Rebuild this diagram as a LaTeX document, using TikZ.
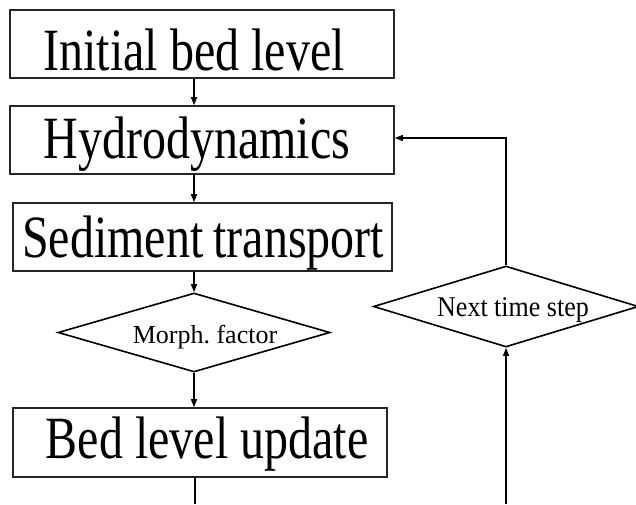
\documentclass[tikz,border=0pt]{standalone}
\usepackage{fontspec}
\usepackage{graphicx}
\setmainfont{Liberation Serif}
\usetikzlibrary{shapes.geometric,arrows.meta}

\tikzset{
  stagebox/.style={draw, line width=1.6pt, rectangle, inner sep=0pt, draw=black!85},
  gate/.style={draw, line width=1.6pt, diamond, inner sep=0pt, draw=black},
  bigtext/.style={anchor=base, inner sep=0pt, font=\fontsize{48pt}{50pt}\selectfont},
  smalltext/.style={anchor=base, inner sep=0pt, font=\frenchspacing\fontsize{26pt}{28pt}\selectfont},
  flow/.style={line width=1.2pt, -{Triangle[length=8pt,width=6pt]}},
  plain/.style={line width=1.2pt}
}
\newcommand{\tallish}[2]{\scalebox{1}[#1]{#2}}

\begin{document}
\begin{tikzpicture}[x=1pt,y=-1pt]
  \useasboundingbox (0,0) rectangle (636,504);

  % process boxes
  \node[stagebox, minimum width=384pt, minimum height=68pt] (init) at (202,44) {};
  \node[bigtext] (initT) at (194,70) {\tallish{1.25}{Initial bed level}};

  \node[stagebox, minimum width=384pt, minimum height=68pt] (hydro) at (202,140) {};
  \node[bigtext] (hydroT) at (197,158) {\tallish{1.25}{Hydrodynamics}};

  \node[stagebox, minimum width=379pt, minimum height=68pt] (sed) at (202.5,237) {};
  \node[bigtext] (sedT) at (203,257) {\tallish{1.25}{Sediment\kern-2pt\ transport}};

  \node[stagebox, minimum width=374pt, minimum height=69pt] (bed) at (200,442.5) {};
  \node[bigtext] (bedT) at (207,458) {\tallish{1.25}{Bed level update}};

  % decision diamonds
  \node[gate, minimum width=272pt, minimum height=79pt] (morph) at (194,332.5) {};
  \node[smalltext] (morphT) at (205,343) {Morph. factor};

  \node[gate, minimum width=265pt, minimum height=81pt] (next) at (506,306.5) {};
  \node[smalltext] (nextT) at (513,316) {\tallish{1.1}{Next time step}};

  % connector columns and loose ends
  \coordinate (colL) at (194,0);
  \coordinate (bedout) at (195,504);
  \coordinate (loopin) at (506,504);
  \coordinate (loopturn) at (506,138);

  \draw[flow] (init.south -| colL) -- (hydro.north -| colL);
  \draw[flow] (hydro.south -| colL) -- (sed.north -| colL);
  \draw[flow] (sed.south -| colL) -- (morph.north);
  \draw[flow] (morph.south) -- (bed.north -| morph.south);
  \draw[plain] (bed.south -| bedout) -- (bedout);
  \draw[flow] (loopin) -- (next.south);
  \draw[flow] (next.north) -- (loopturn) -- (loopturn -| hydro.east);
\end{tikzpicture}
\end{document}
